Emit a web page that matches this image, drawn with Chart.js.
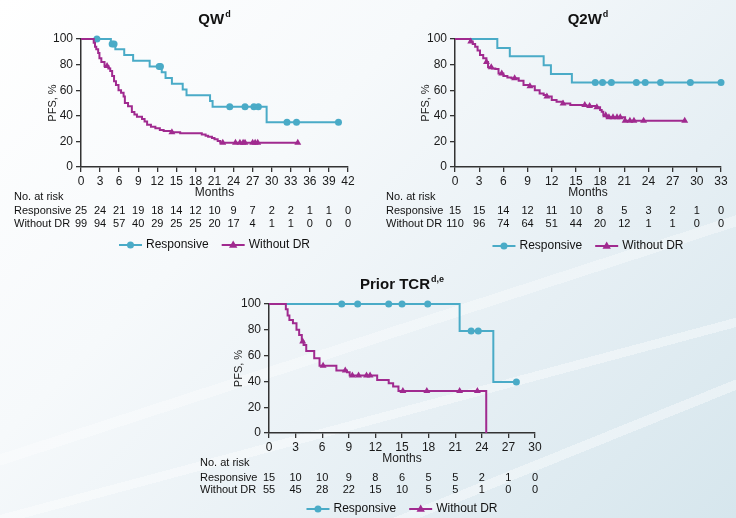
<!DOCTYPE html>
<html>
<head>
<meta charset="utf-8">
<script src="https://cdn.jsdelivr.net/npm/chart.js@4"></script>
<style>
  html, body { margin: 0; padding: 0; }
  body {
    width: 736px; height: 518px; position: relative; overflow: hidden;
    background:
      linear-gradient(162deg, transparent 0 60%, rgba(255,255,255,0.35) 60% 61.5%, transparent 61.5%),
      linear-gradient(165deg, transparent 0 72%, rgba(255,255,255,0.4) 72% 73.3%, transparent 73.3%),
      linear-gradient(158deg, transparent 0 83%, rgba(255,255,255,0.4) 83% 84.3%, transparent 84.3%),
      linear-gradient(135deg, #ffffff 0%, #f6f9fb 35%, #e6eff4 68%, #d6e6ed 100%);
  }
  canvas { position: absolute; }
</style>
</head>
<body>
<canvas id="qw" width="368" height="262" style="left:0;top:0"></canvas>
<canvas id="q2w" width="368" height="262" style="left:368px;top:0"></canvas>
<canvas id="tcr" width="390" height="256" style="left:180px;top:262px"></canvas>
<script>
// colours
const BLUE = "#4aabc7";
const PURPLE = "#a02a8f";

// ---- QW ----
const qwMonths = [0, 3, 6, 9, 12, 15, 18, 21, 24, 27, 30, 33, 36, 39, 42];
const qwRespT = [0, 4.7, 5.4, 6.8, 8.2, 10.8, 12.7, 13.3, 14.3, 16.0, 16.6, 20.3, 20.7, 29.2, 40.5];
const qwRespS = [100, 96, 92, 87.5, 83, 78.5, 74, 69.5, 65, 60.5, 56, 51.5, 47, 35, 35];
const qwRespCens = [2.5, 4.9, 5.2, 12.3, 12.5, 23.4, 25.8, 27.2, 27.9, 32.4, 33.9, 40.5];
const qwNoDrT = [0, 2.0, 2.2, 2.4, 2.7, 2.9, 3.2, 3.7, 4.3, 4.6, 4.9, 5.2, 5.5, 5.9, 6.3, 6.7, 6.9, 7.4, 8.0, 8.4, 8.8, 9.6, 10.0, 10.4, 11.0, 11.7, 12.4, 13.0, 14.3, 15.6, 19.0, 19.6, 20.0, 20.6, 21.0, 21.5, 21.9, 34.2];
const qwNoDrS = [100, 97, 94, 92, 89, 85, 82, 79, 77, 75, 71, 67, 64, 60, 58, 55, 50, 47.5, 43, 41, 39.3, 37.5, 35.5, 33, 31.5, 30.2, 29, 28.2, 27.2, 26.3, 25.4, 24.5, 23.6, 22.7, 21.6, 20.3, 19, 19];
const qwNoDrCens = [4.1, 14.3, 22.3, 24.3, 25.0, 25.5, 25.8, 27.0, 27.4, 27.8, 34.1];
const qwRiskResp = [25, 24, 21, 19, 18, 14, 12, 10, 9, 7, 2, 2, 1, 1, 0];
const qwRiskNoDr = [99, 94, 57, 40, 29, 25, 25, 20, 17, 4, 1, 1, 0, 0, 0];

// ---- Q2W ----
const q2wMonths = [0, 3, 6, 9, 12, 15, 18, 21, 24, 27, 30, 33];
const q2wRespT = [0, 5.25, 6.8, 11.0, 11.9, 14.5, 33];
const q2wRespS = [100, 93, 86.5, 79.5, 72.7, 66, 66];
const q2wRespCens = [17.4, 18.3, 19.4, 22.5, 23.6, 25.5, 29.2, 33.0];
const q2wNoDrT = [0, 1.9, 2.2, 2.5, 2.8, 3.1, 3.5, 3.9, 4.1, 4.6, 5.0, 5.4, 6.0, 6.5, 7.0, 7.9, 8.5, 9.3, 9.9, 10.5, 11.0, 11.4, 12.0, 12.6, 13.4, 14.3, 16.3, 17.6, 18.0, 18.2, 18.4, 18.8, 21.1, 28.5];
const q2wNoDrS = [100, 98, 96, 94, 91, 87.5, 85, 82, 78, 77, 76.5, 73, 71, 70, 69.3, 67.4, 64, 63, 60, 57.5, 56.3, 55, 52.3, 51, 49.7, 48.4, 47.6, 46.6, 44.5, 43.2, 40.5, 38.8, 36.2, 36.2];
const q2wNoDrCens = [1.95, 3.9, 4.5, 5.8, 7.4, 9.3, 11.4, 13.4, 16.1, 16.7, 17.6, 18.7, 19.1, 19.6, 20.1, 20.5, 21.1, 21.7, 22.2, 23.4, 28.5];
const q2wRiskResp = [15, 15, 14, 12, 11, 10, 8, 5, 3, 2, 1, 0];
const q2wRiskNoDr = [110, 96, 74, 64, 51, 44, 20, 12, 1, 1, 0, 0];

// ---- Prior TCR ----
const tcrMonths = [0, 3, 6, 9, 12, 15, 18, 21, 24, 27, 30];
const tcrRespT = [0, 21.5, 25.3, 27.9];
const tcrRespS = [100, 79, 39.5, 39.5];
const tcrRespCens = [8.2, 10.0, 13.5, 15.0, 17.9, 22.8, 23.6, 27.9];
const tcrNoDrT = [0, 1.9, 2.1, 2.3, 2.7, 3.1, 3.4, 3.7, 3.9, 4.2, 5.1, 5.7, 7.6, 8.8, 9.1, 12.2, 13.5, 14.0, 14.6, 24.5];
const tcrNoDrS = [100, 96, 91, 87.6, 85, 80, 76, 71, 68.2, 63.6, 58, 52.2, 48.5, 47, 44.5, 41, 38.5, 36, 32.5, 0];
const tcrNoDrCens = [3.8, 6.1, 8.6, 9.4, 10.1, 11.0, 11.4, 15.1, 17.8, 21.5, 23.5];
const tcrRiskResp = [15, 10, 10, 9, 8, 6, 5, 5, 2, 1, 0];
const tcrRiskNoDr = [55, 45, 28, 22, 15, 10, 5, 5, 1, 0, 0];

const FONT = '"Liberation Sans", Arial, sans-serif';
Chart.defaults.font.family = FONT;
Chart.defaults.color = "#1a1a1a";

const steps = (t, s) => t.map((v, i) => ({ x: v, y: s[i] }));

// level of a KM curve just after time tt
function levelAt(t, s, tt) {
  let y = s[0];
  for (let i = 0; i < t.length; i++) if (t[i] <= tt) y = s[i];
  return y;
}
const censPts = (t, s, c) => c.map(v => ({ x: v, y: levelAt(t, s, v) }));

function drawMarker(ctx, kind, x, y, color) {
  ctx.fillStyle = color;
  ctx.beginPath();
  if (kind === "circle") {
    ctx.arc(x, y, 3.5, 0, Math.PI * 2);
  } else {
    ctx.moveTo(x, y - 4.5);
    ctx.lineTo(x + 4.2, y + 2.8);
    ctx.lineTo(x - 4.2, y + 2.8);
    ctx.closePath();
  }
  ctx.fill();
}

// title, at-risk table and legend
const kmDecor = {
  id: "kmDecor",
  afterDraw(chart, args, o) {
    const { ctx, chartArea: ca } = chart;
    const x = chart.scales.x;
    const mid = (ca.left + ca.right) / 2;
    ctx.save();
    ctx.textBaseline = "middle";
    ctx.fillStyle = "#111";

    // title with superscript
    ctx.font = "bold 15px " + FONT;
    const tw = ctx.measureText(o.title).width;
    ctx.font = "bold 9px " + FONT;
    const sw = ctx.measureText(o.sup).width;
    const sx = mid - (tw + sw + 1) / 2;
    ctx.textAlign = "left";
    ctx.font = "bold 15px " + FONT;
    ctx.fillText(o.title, sx, o.titleY);
    ctx.font = "bold 9px " + FONT;
    ctx.fillText(o.sup, sx + tw + 1, o.titleY - 5);

    // at-risk table
    ctx.font = "11px " + FONT;
    ctx.fillText("No. at risk", o.tableX, o.tableY[0]);
    o.rows.forEach((row, r) => {
      const yy = o.tableY[r + 1];
      ctx.textAlign = "left";
      ctx.fillText(row.label, o.tableX, yy);
      ctx.textAlign = "center";
      row.values.forEach((v, i) => ctx.fillText(String(v), x.getPixelForValue(o.months[i]), yy));
    });

    // legend
    ctx.font = "12px " + FONT;
    const items = [
      { label: "Responsive", color: BLUE, kind: "circle" },
      { label: "Without DR", color: PURPLE, kind: "triangle" }
    ];
    const lineLen = 23, gap = 4, between = 13;
    const widths = items.map(it => lineLen + gap + ctx.measureText(it.label).width);
    let lx = mid - (widths[0] + widths[1] + between) / 2;
    items.forEach((it, i) => {
      ctx.strokeStyle = it.color;
      ctx.lineWidth = 2;
      ctx.beginPath();
      ctx.moveTo(lx, o.legendY);
      ctx.lineTo(lx + lineLen, o.legendY);
      ctx.stroke();
      drawMarker(ctx, it.kind, lx + lineLen / 2, o.legendY, it.color);
      ctx.fillStyle = "#111";
      ctx.textAlign = "left";
      ctx.fillText(it.label, lx + lineLen + gap, o.legendY);
      lx += widths[i] + between;
    });
    ctx.restore();
  }
};

function makeKm(id, c) {
  const lineDs = (data, color) => ({
    type: "line", data, borderColor: color, borderWidth: 2, stepped: true,
    pointRadius: 0, fill: false, clip: false
  });
  const censDs = (data, color, style) => ({
    type: "scatter", data, showLine: false, pointStyle: style,
    pointRadius: style === "triangle" ? 4 : 3.5, pointBackgroundColor: color,
    pointBorderColor: color, pointBorderWidth: 0, clip: false
  });
  new Chart(document.getElementById(id), {
    type: "line",
    data: {
      datasets: [
        lineDs(steps(c.noDrT, c.noDrS), PURPLE),
        censDs(censPts(c.noDrT, c.noDrS, c.noDrCens), PURPLE, "triangle"),
        lineDs(steps(c.respT, c.respS), BLUE),
        censDs(censPts(c.respT, c.respS, c.respCens), BLUE, "circle")
      ]
    },
    options: {
      responsive: false,
      animation: false,
      layout: { padding: c.padding },
      plugins: {
        legend: { display: false },
        tooltip: { enabled: false },
        kmDecor: c.decor
      },
      scales: {
        x: {
          type: "linear", min: 0, max: c.months[c.months.length - 1],
          afterBuildTicks: s => { s.ticks = c.months.map(v => ({ value: v })); },
          afterFit: s => { s.height = 37; },
          ticks: { autoSkip: false, maxRotation: 0, padding: 2, font: { size: 12 }, color: "#1a1a1a" },
          grid: { drawOnChartArea: false, tickLength: 5, color: "#333", lineWidth: 1.3 },
          border: { color: "#333", width: 1.5 },
          title: { display: true, text: "Months", font: { size: 12 }, color: "#1a1a1a", padding: { top: 2, bottom: 4 } }
        },
        y: {
          min: 0, max: 100,
          afterBuildTicks: s => { s.ticks = [0, 20, 40, 60, 80, 100].map(v => ({ value: v })); },
          afterFit: s => { s.width = c.yWidth; },
          ticks: { padding: 3, font: { size: 12 }, color: "#1a1a1a" },
          grid: { drawOnChartArea: false, tickLength: 5, color: "#333", lineWidth: 1.3 },
          border: { color: "#333", width: 1.5 },
          title: { display: true, text: "PFS, %", font: { size: 11 }, color: "#1a1a1a", padding: { top: 5, bottom: 4 } }
        }
      }
    },
    plugins: [kmDecor]
  });
}

makeKm("qw", {
  months: qwMonths,
  respT: qwRespT, respS: qwRespS, respCens: qwRespCens,
  noDrT: qwNoDrT, noDrS: qwNoDrS, noDrCens: qwNoDrCens,
  padding: { left: 41, top: 39, right: 20, bottom: 58 },
  yWidth: 40,
  decor: {
    title: "QW", sup: "d", titleY: 20, months: qwMonths,
    tableX: 14, tableY: [197, 211, 223.5], legendY: 245,
    rows: [{ label: "Responsive", values: qwRiskResp }, { label: "Without DR", values: qwRiskNoDr }]
  }
});

makeKm("q2w", {
  months: q2wMonths,
  respT: q2wRespT, respS: q2wRespS, respCens: q2wRespCens,
  noDrT: q2wNoDrT, noDrS: q2wNoDrS, noDrCens: q2wNoDrCens,
  padding: { left: 46, top: 39, right: 15, bottom: 58 },
  yWidth: 41,
  decor: {
    title: "Q2W", sup: "d", titleY: 20, months: q2wMonths,
    tableX: 18, tableY: [197.3, 211, 223.7], legendY: 246,
    rows: [{ label: "Responsive", values: q2wRiskResp }, { label: "Without DR", values: q2wRiskNoDr }]
  }
});

makeKm("tcr", {
  months: tcrMonths,
  respT: tcrRespT, respS: tcrRespS, respCens: tcrRespCens,
  noDrT: tcrNoDrT, noDrS: tcrNoDrS, noDrCens: tcrNoDrCens,
  padding: { left: 47, top: 42, right: 35, bottom: 48 },
  yWidth: 42,
  decor: {
    title: "Prior TCR", sup: "d,e", titleY: 23, months: tcrMonths,
    tableX: 20, tableY: [201.3, 215.7, 228], legendY: 247,
    rows: [{ label: "Responsive", values: tcrRiskResp }, { label: "Without DR", values: tcrRiskNoDr }]
  }
});
</script>
</body>
</html>
